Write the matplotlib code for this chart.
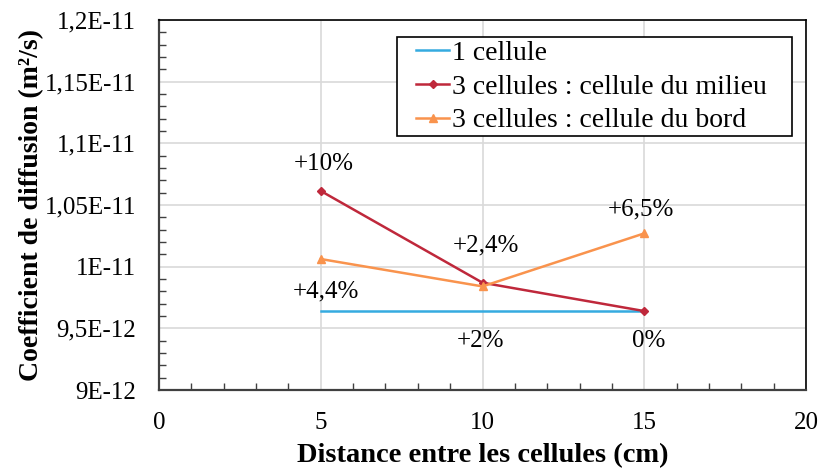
import matplotlib
matplotlib.use("Agg")
import matplotlib.pyplot as plt
from matplotlib.patches import Rectangle
from matplotlib.ticker import MultipleLocator, FixedLocator

plt.rcParams['font.family'] = ['Liberation Serif', 'DejaVu Serif']

# Data
distance = [5, 10, 15]
une_cellule = [9.64e-12, 9.64e-12, 9.64e-12]
milieu = [1.0614e-11, 9.87e-12, 9.64e-12]
bord = [1.0062e-11, 9.84e-12, 1.027e-11]

y_ticks = [9e-12, 9.5e-12, 1e-11, 1.05e-11, 1.1e-11, 1.15e-11, 1.2e-11]
y_tick_labels = ["9E-12", "9,5E-12", "1E-11", "1,05E-11", "1,1E-11", "1,15E-11", "1,2E-11"]
x_ticks = [0, 5, 10, 15, 20]

# annotations: (text, x, y)
annotations = [
    ("+10%", 5.1, 1.0830e-11),
    ("+4,4%", 5.15, 9.80e-12),
    ("+2,4%", 10.1, 1.0175e-11),
    ("+2%", 9.95, 9.40e-12),
    ("+6,5%", 14.9, 1.0465e-11),
    ("0%", 15.15, 9.40e-12),
]

BLUE = "#35abe0"
RED = "#bf283b"
ORANGE = "#f9934d"


def main():
    fig = plt.figure(figsize=(8.21, 4.70), dpi=100)
    ax = fig.add_axes([0.1937, 0.1702, 0.7880, 0.7872])

    ax.plot(distance, une_cellule, color=BLUE, lw=1.8, label="1 cellule")
    ax.plot(distance, milieu, color=RED, lw=1.8, marker="D", ms=4,
            label="3 cellules : cellule du milieu")
    ax.plot(distance, bord, color=ORANGE, lw=1.8, marker="^", ms=6,
            label="3 cellules : cellule du bord")

    for txt, x, y in annotations:
        ax.text(x, y, txt, ha="center", va="center", fontsize=18)

    ax.set_xlim(0, 20)
    ax.set_ylim(9e-12, 1.2e-11)
    ax.xaxis.set_major_locator(FixedLocator(x_ticks))
    ax.xaxis.set_minor_locator(MultipleLocator(1))
    ax.set_yticks(y_ticks)
    ax.set_yticklabels(y_tick_labels)
    ax.yaxis.set_minor_locator(MultipleLocator(1e-13))

    ax.tick_params(axis="both", which="major", direction="in", length=0,
                   labelsize=18)
    ax.tick_params(axis="y", which="major", pad=16.5)
    ax.tick_params(axis="x", which="major", pad=16)
    ax.tick_params(axis="both", which="minor", direction="in", length=5,
                   width=1, color="#404040")
    ax.tick_params(axis="x", which="minor", top=False)
    ax.tick_params(axis="y", which="minor", right=False)

    ax.grid(True, which="major", color="#d9d9d9", lw=1.2)
    ax.set_axisbelow(True)
    for side in ["left", "bottom"]:
        ax.spines[side].set_linewidth(1.6)
        ax.spines[side].set_color("#404040")
    for side in ["right", "top"]:
        ax.spines[side].set_linewidth(1.2)
        ax.spines[side].set_color("black")

    ax.set_xlabel("Distance entre les cellules (cm)", fontsize=20.5,
                  fontweight="bold")
    ax.set_ylabel("Coefficient de diffusion (m²/s)", fontsize=20,
                  fontweight="bold")
    ax.xaxis.set_label_coords(0.5, -0.143)
    ax.yaxis.set_label_coords(-0.178, 0.5)

    # legend frame drawn separately to get the wider side padding
    ax.add_patch(Rectangle((0.368, 0.686), 0.6105, 0.2676,
                           transform=ax.transAxes, facecolor="white",
                           edgecolor="black", lw=1.2, zorder=4))
    leg = ax.legend(loc="upper left", bbox_to_anchor=(0.397, 0.945),
                    borderaxespad=0, borderpad=0, fontsize=20,
                    frameon=False, handlelength=1.2, handletextpad=0.1,
                    labelspacing=0.3)
    leg.set_zorder(5)

    fig.savefig("out.png", dpi=100)


if __name__ == "__main__":
    main()
